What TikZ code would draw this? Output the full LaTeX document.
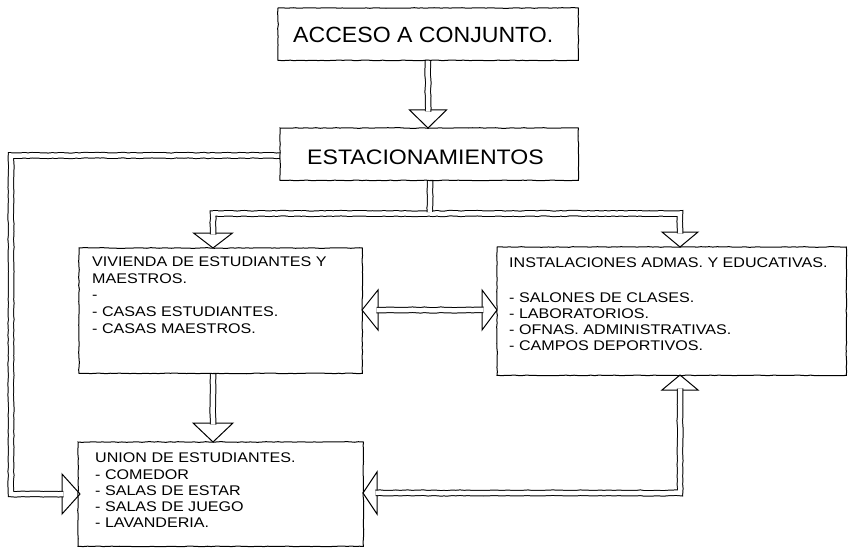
\documentclass[tikz,border=0pt]{standalone}
\usepackage{fontspec}
\setmainfont{Liberation Sans}
\usetikzlibrary{decorations.pathmorphing,calc}
\newcommand{\bodytxt}[1]{\scalebox{1.15}[1]{\fontsize{14}{16}\selectfont #1}}
\newcommand{\bigtxt}[3]{\scalebox{#1}[1]{\fontsize{#2}{#2}\selectfont #3}}
\begin{document}
\begin{tikzpicture}[x=1pt,y=-1pt,
  sketch/.style={decorate, decoration={random steps, segment length=4pt, amplitude=0.35pt}},
  boxarea/.style={inner sep=0, anchor=north west},
  outline/.style={draw, line width=1pt, sketch},
  shaft/.style={draw, line width=1pt, double=white, double distance=4.5pt, sketch},
  head/.style={draw, fill=white, line width=1pt, line join=miter},
  txt/.style={anchor=base west, inner sep=0}]
\useasboundingbox (0,0) rectangle (848,548);
\fill[white] (0,0) rectangle (848,548);

% box areas (named)
\node[boxarea, minimum width=300pt, minimum height=52pt] (acc) at (278,8) {};
\node[boxarea, minimum width=298pt, minimum height=52pt] (esta) at (280,128) {};
\node[boxarea, minimum width=283pt, minimum height=125pt] (viv) at (79,248) {};
\node[boxarea, minimum width=349pt, minimum height=128pt] (inst) at (497,247) {};
\node[boxarea, minimum width=285pt, minimum height=104pt] (union) at (78,442) {};

% key coordinates
\coordinate (c1) at (428,60);
\coordinate (l1) at (280,155.5);
\coordinate (l2) at (11,155.5);
\coordinate (l3) at (11,494);
\coordinate (b1) at (430,180);
\coordinate (bL) at (213,213.5);
\coordinate (bR) at (680,213.5);
\coordinate (r1) at (680,493);

% arrow heads
\path[head] (409.5,110) -- (428,128) -- (446.5,110) -- cycle;
\path[head] (62,474) -- (80,494) -- (62,514) -- cycle;
\path[head] (193.5,233) -- (213,248) -- (232.5,233) -- cycle;
\path[head] (662,232) -- (680,247) -- (698,232) -- cycle;
\path[head] (378,290) -- (362,310) -- (378,330) -- cycle;
\path[head] (482,290) -- (497,310) -- (482,330) -- cycle;
\path[head] (193,423) -- (213,442) -- (233,423) -- cycle;
\path[head] (662,390) -- (680,375) -- (698,390) -- cycle;
\path[head] (377,472) -- (363,493) -- (377,514) -- cycle;

% shafts
\path[shaft] (c1) -- (428,111.5);
\path[shaft] (l1) -- (l2) -- (l3) -- (63.5,494);
\path[shaft] (213,234.5) -- (bL) -- (bR) -- (680,233.5);
\path[shaft] (b1) -- (430,212);
\path[shaft] (376.5,310) -- (483.5,310);
\path[shaft] (213,373) -- (213,424.5);
\path[shaft] (680,388.5) -- (r1) -- (375.5,493);

% box outlines
\foreach \b in {acc,esta,viv,inst,union}
  \path[outline] (\b.north west) -- (\b.north east) -- (\b.south east) -- (\b.south west) -- cycle;

% texts
\node[txt] (tacc) at (293,43) {\bigtxt{1.05}{22}{ACCESO A CONJUNTO.}};
\node[txt] (testa) at (307,165) {\bigtxt{1.1}{21}{ESTACIONAMIENTOS}};

\node[txt] (v1) at (92,266) {\bodytxt{VIVIENDA DE ESTUDIANTES Y}};
\node[txt] (v2) at (92,283) {\bodytxt{MAESTROS.}};
\node[txt] (v3) at (92,299) {\bodytxt{-}};
\node[txt] (v4) at (92,316) {\bodytxt{- CASAS ESTUDIANTES.}};
\node[txt] (v5) at (92,333) {\bodytxt{- CASAS MAESTROS.}};

\node[txt] (i1) at (509,267) {\bodytxt{INSTALACIONES ADMAS. Y EDUCATIVAS.}};
\node[txt] (i2) at (509,302) {\bodytxt{- SALONES DE CLASES.}};
\node[txt] (i3) at (509,318) {\bodytxt{- LABORATORIOS.}};
\node[txt] (i4) at (509,334) {\bodytxt{- OFNAS. ADMINISTRATIVAS.}};
\node[txt] (i5) at (509,350) {\bodytxt{- CAMPOS DEPORTIVOS.}};

\node[txt] (u1) at (95,462) {\bodytxt{UNION DE ESTUDIANTES.}};
\node[txt] (u2) at (95,479) {\bodytxt{- COMEDOR}};
\node[txt] (u3) at (95,495) {\bodytxt{- SALAS DE ESTAR}};
\node[txt] (u4) at (95,511) {\bodytxt{- SALAS DE JUEGO}};
\node[txt] (u5) at (95,527) {\bodytxt{- LAVANDERIA.}};
\end{tikzpicture}
\end{document}
